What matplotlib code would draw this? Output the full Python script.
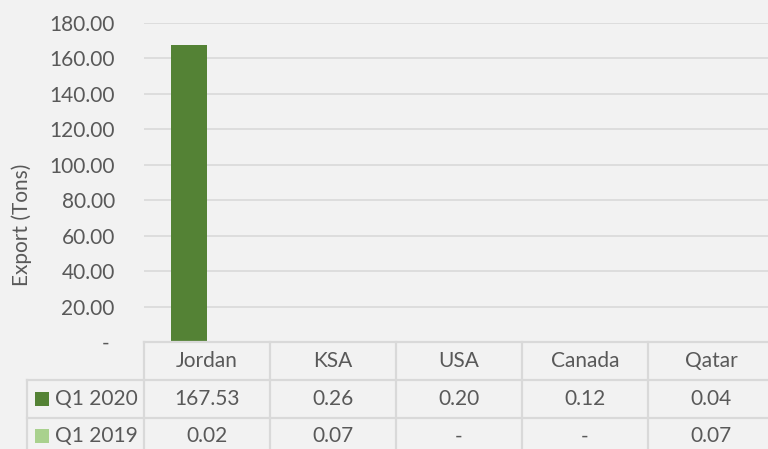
import matplotlib
matplotlib.use("Agg")
import matplotlib.pyplot as plt
from matplotlib.transforms import blended_transform_factory
from matplotlib.patches import Rectangle
import numpy as np

categories = ["Jordan", "KSA", "USA", "Canada", "Qatar"]
series_names = ["Q1 2020", "Q1 2019"]
q1_2020 = [167.53, 0.26, 0.20, 0.12, 0.04]
q1_2019 = [0.02, 0.07, None, None, 0.07]
yticks = [0, 20, 40, 60, 80, 100, 120, 140, 160, 180]
ylabel = "Export (Tons)"

colors = ["#548235", "#A9D18E"]
bg = "#F2F2F2"
txt = "#595959"
grid = "#D9D9D9"

plt.rcParams['font.family'] = ['Lato', 'DejaVu Sans']

W, H = 768, 449
fig = plt.figure(figsize=(W / 100, H / 100), dpi=100, facecolor=bg)

def fy(py):
    return (H - py) / H

left_px, right_px = 144, 774
top_px, bot_px = 23, 342
ax = fig.add_axes([left_px / W, fy(bot_px), (right_px - left_px) / W, (bot_px - top_px) / H])
ax.set_facecolor(bg)

x = np.arange(len(categories))
bw = 36 / 126
series = [q1_2020, q1_2019]
for k, vals in enumerate(series):
    v = [0 if val is None else val for val in vals]
    ax.bar(x + (k - 0.5) * bw, v, width=bw, color=colors[k], zorder=3)

ax.set_xlim(-0.5, len(categories) - 0.5)
ax.set_ylim(0, 180)
ax.set_yticks(yticks)
ax.set_yticklabels([("%.2f" % t) if t != 0 else "- " for t in yticks])
ax.tick_params(axis='y', length=0, pad=21, labelsize=15, colors=txt)
ax.set_xticks([])
for s in ax.spines.values():
    s.set_visible(False)
ax.yaxis.grid(True, color=grid, linewidth=1.2, zorder=0)
ax.set_axisbelow(True)
ax.set_ylabel(ylabel, fontsize=15, color=txt)
ax.yaxis.label.set_va('center')
ax.yaxis.set_label_coords(22 / W, 0.5, transform=fig.transFigure)

# data table
tr = blended_transform_factory(ax.transData, fig.transFigure)
row_edges = [342, 380, 417.5, 455]
lw = 1.6
ax.plot([-0.5, len(categories) - 0.5], [fy(row_edges[0])] * 2, color=grid, lw=lw,
        transform=tr, clip_on=False, zorder=5)
for ry in row_edges[1:]:
    fig.add_artist(plt.Line2D([27 / W, right_px / W], [fy(ry)] * 2, color=grid, lw=lw))
for i in range(len(categories) + 1):
    ax.plot([i - 0.5, i - 0.5], [fy(row_edges[0]), fy(row_edges[-1])], color=grid, lw=lw,
            transform=tr, clip_on=False, zorder=5)
fig.add_artist(plt.Line2D([27 / W, 27 / W], [fy(row_edges[1]), fy(row_edges[-1])], color=grid, lw=lw))

fs = 15
for i, c in enumerate(categories):
    ax.text(i, fy((row_edges[0] + row_edges[1]) / 2), c, transform=tr, ha='center', va='center',
            fontsize=fs, color=txt)
for k, vals in enumerate(series):
    yc = fy((row_edges[k + 1] + row_edges[k + 2]) / 2)
    for i, val in enumerate(vals):
        s = "-" if val is None else "%.2f" % val
        ax.text(i, yc, s, transform=tr, ha='center', va='center', fontsize=fs, color=txt)
    fig.add_artist(Rectangle((35 / W, yc - 7 / H), 14 / W, 14 / H, facecolor=colors[k],
                             edgecolor='none', transform=fig.transFigure))
    fig.text(55 / W, yc, series_names[k], ha='left', va='center', fontsize=fs, color=txt)

fig.savefig("out.png", dpi=100, facecolor=bg)
